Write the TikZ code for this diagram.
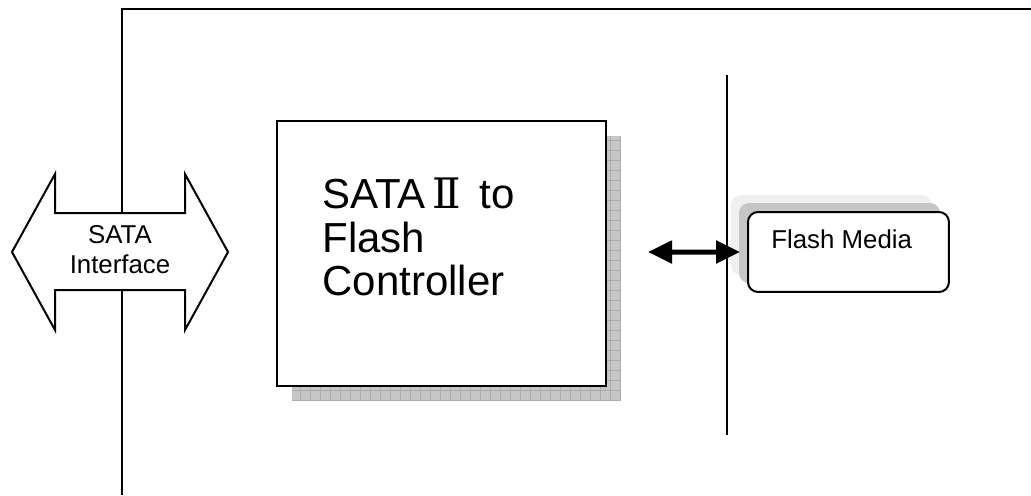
\documentclass[tikz,border=0pt]{standalone}
\usepackage{fontspec}
\setmainfont{Liberation Sans}
\newfontfamily\romfont{DejaVu Serif}
\usetikzlibrary{arrows.meta}

\tikzset{
  wire/.style={line width=0.04cm},
  boxline/.style={draw,line width=0.04cm,fill=white},
  shadowfill/.style={fill=gray!45},
  smalltext/.style={font=\fontsize{14.7pt}{17pt}\selectfont,inner sep=0pt},
  bigtext/.style={font=\fontsize{23.9pt}{24.6pt}\selectfont,inner sep=0pt,align=left}
}

\begin{document}
\begin{tikzpicture}[x=0.02cm,y=-0.02cm]
\useasboundingbox (0,0) rectangle (1031,495);
% frame lines
\coordinate (topleft) at (122,9);
\draw[wire] (122,495) -- (topleft) -- (1031,9);
\draw[wire] (727,75) coordinate (bustop) -- (727,435) coordinate (busbottom);

% SATA double arrow
\filldraw[wire,fill=white] (12,252) -- (55,174) -- (55,213) -- (185,213) -- (185,174) -- (228,252)
  -- (185,330) -- (185,290) -- (55,290) -- (55,330) -- cycle;
\node[smalltext,align=center] (sata) at (120,250) {SATA\\Interface};

% controller with shadow
\fill[shadowfill] (292,136) rectangle (621,401);
\draw[gray!65,line width=0.3pt,step=0.2cm] (292,136) grid (621,401);
\node[boxline,minimum width=6.58cm,minimum height=5.3cm,anchor=north west] (ctrl) at (276,120) {};
\node[bigtext,anchor=north west] (ctrltext) at (322,178) {SATA\,{\romfont Ⅱ}\, to\\Flash\\Controller};

% flash media with shadow
\fill[gray!12,rounded corners=0.2cm] (731,195) rectangle (932,275);
\fill[shadowfill,rounded corners=0.2cm] (739,203) rectangle (940,283);
\node[boxline,rounded corners=0.2cm,minimum width=4.02cm,minimum height=1.6cm,anchor=north west] (media) at (747,211) {};
\node[smalltext,anchor=base west] (mediatext) at (771,248) {Flash Media};

% link
\coordinate (linkleft) at (648,252);
\draw[line width=0.1cm,{Triangle[length=0.48cm,width=0.44cm]}-{Triangle[length=0.48cm,width=0.44cm]}] (linkleft) -- ([xshift=-0.14cm]media.west);
\end{tikzpicture}
\end{document}
